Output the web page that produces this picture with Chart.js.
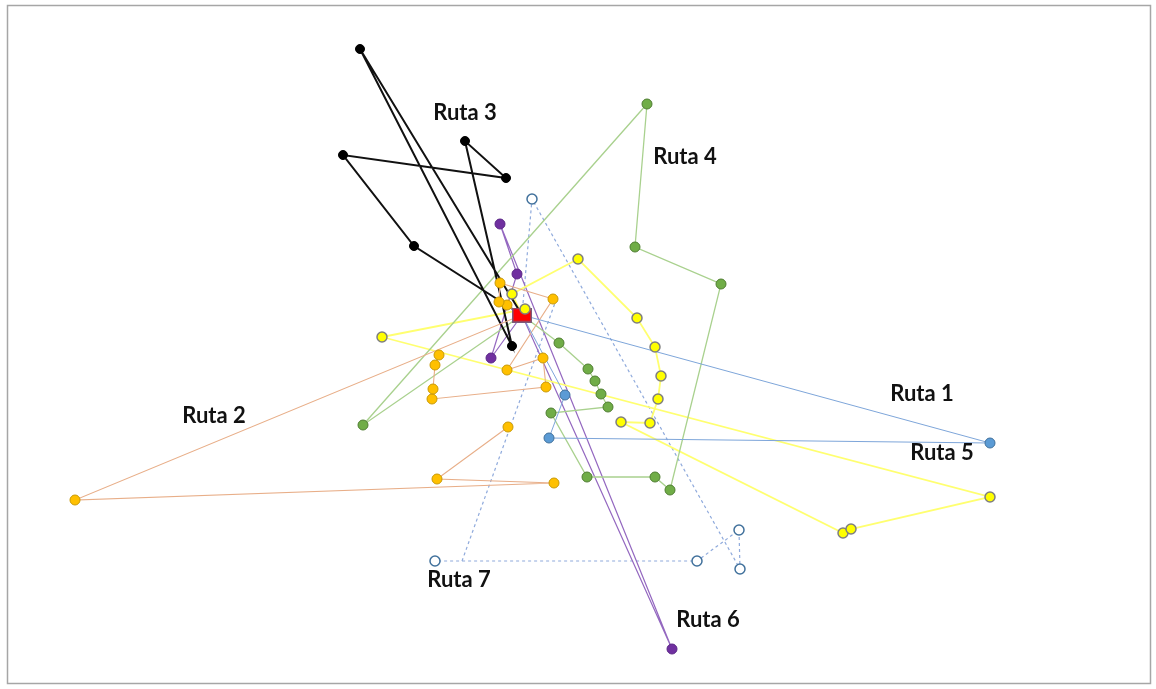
<!DOCTYPE html>
<html lang="es">
<head>
<meta charset="utf-8">
<title>Rutas</title>
<script src="https://cdn.jsdelivr.net/npm/chart.js@4.4.1/dist/chart.umd.min.js"></script>
<style>
  html, body { margin: 0; padding: 0; background: #fff; }
  #wrap { width: 1156px; height: 689px; position: relative; }
</style>
</head>
<body>
<div id="wrap"><canvas id="rutas"></canvas></div>
<script>
// coordenadas (x a la derecha, y hacia abajo)
const D = [522, 315]; // depósito
const ruta1 = [D, [990, 443], [549, 438], [565, 395], D];
const ruta2 = [[508, 427], [437, 479], [554, 483], [75, 500], D, [507, 305], [499, 302], [500, 283], [553, 299],
  [507, 370], [543, 358], [546, 387], [432, 399], [433, 389], [435, 365], [439, 355]];
const ruta3 = [D, [360, 49], [512, 346], [465, 141], [506, 178], [343, 155], [414, 246], D];
const ruta4 = [D, [363, 425], [647, 104], [635, 247], [721, 284], [670, 490], [655, 477], [587, 477], [551, 413],
  [608, 407], [601, 394], [595, 381], [588, 369], [559, 343], D];
const ruta5 = [D, [512, 294], [578, 259], [637, 318], [655, 347], [661, 376], [658, 399], [650, 423], [621, 422],
  [843, 533], [851, 529], [990, 497], [382, 337], [525, 309], D];
const ruta6 = [D, [672, 649], [500, 224], [517, 274], [491, 358], D];
const ruta7 = [D, [532, 199], [740, 569], [739, 530], [697, 561], [435, 561]];
const ruta7tramo = [[462, 561], [555, 303]];

const etiquetas = ['Ruta 1', 'Ruta 2', 'Ruta 3', 'Ruta 4', 'Ruta 5', 'Ruta 6', 'Ruta 7'];
const etiquetaX = [922, 214, 465, 685, 942, 708, 459];
const etiquetaY = [394, 416, 113, 157, 453, 620, 580];

const aXY = pts => pts.map(p => ({ x: p[0], y: p[1] }));
const sinDeposito = pts => pts.filter(p => p !== D);

// estilo de cada ruta: línea y marcador
const estilos = [
  { pts: ruta1, linea: '#7EA6DA', ancho: 1, fondo: '#5B9BD5', borde: '#41719C', bw: 1, r: 5 },
  { pts: ruta2, linea: '#E8AE88', ancho: 1.1, fondo: '#FFC000', borde: '#C99A06', bw: 1, r: 5 },
  { pts: ruta3, linea: '#111111', ancho: 2, fondo: '#000000', borde: '#000000', bw: 1, r: 4.5 },
  { pts: ruta4, linea: '#A9D18E', ancho: 1.3, fondo: '#70AD47', borde: '#507E32', bw: 1, r: 5 },
  { pts: ruta5, linea: '#FFFF70', ancho: 1.8, fondo: '#FFFF00', borde: '#7F7F7F', bw: 1.5, r: 5 },
  { pts: ruta6, linea: '#9468C0', ancho: 1.2, fondo: '#7030A0', borde: '#5B2787', bw: 1, r: 5 },
  { pts: ruta7, linea: '#8FAADC', ancho: 1.2, fondo: '#FFFFFF', borde: '#41719C', bw: 1.5, r: 5, guion: [3, 3] }
];

// marcador del depósito (cuadro rojo)
const imgDeposito = document.createElement('canvas');
imgDeposito.width = 20;
imgDeposito.height = 15;
const cd = imgDeposito.getContext('2d');
cd.fillStyle = '#FF0000';
cd.fillRect(0, 0, 20, 15);
cd.strokeStyle = '#7B5A78';
cd.lineWidth = 1.5;
cd.strokeRect(0.75, 0.75, 18.5, 13.5);

const datasets = [];
// líneas (debajo)
estilos.forEach((e, i) => {
  datasets.push({
    label: etiquetas[i] + ' línea',
    data: aXY(e.pts),
    showLine: true,
    borderColor: e.linea,
    borderWidth: e.ancho,
    borderDash: e.guion || [],
    pointRadius: 0,
    order: 20
  });
});
datasets.push({
  label: 'Ruta 7 tramo',
  data: aXY(ruta7tramo),
  showLine: true,
  borderColor: '#8FAADC',
  borderWidth: 1.2,
  borderDash: [3, 3],
  pointRadius: 0,
  order: 20
});
// marcadores
estilos.forEach((e, i) => {
  datasets.push({
    label: etiquetas[i],
    data: aXY(sinDeposito(e.pts)),
    showLine: false,
    pointRadius: e.r,
    pointBackgroundColor: e.fondo,
    pointBorderColor: e.borde,
    pointBorderWidth: e.bw,
    order: i === 4 ? 0 : 5
  });
});
datasets.push({
  label: 'Depósito',
  data: aXY([D]),
  showLine: false,
  pointStyle: imgDeposito,
  order: 1
});

const marcoYTextos = {
  id: 'marcoYTextos',
  beforeDraw(chart) {
    const ctx = chart.ctx;
    ctx.save();
    ctx.fillStyle = '#FFFFFF';
    ctx.fillRect(0, 0, chart.width, chart.height);
    ctx.strokeStyle = '#A6A6A6';
    ctx.lineWidth = 1.5;
    ctx.strokeRect(7.5, 5.5, 1143, 678);
    ctx.restore();
  },
  afterDatasetsDraw(chart) {
    const ctx = chart.ctx;
    const sx = chart.scales.x, sy = chart.scales.y;
    ctx.save();
    ctx.font = 'bold 22px Lato';
    ctx.fillStyle = '#111111';
    ctx.textAlign = 'center';
    ctx.textBaseline = 'middle';
    etiquetas.forEach((t, i) => {
      ctx.fillText(t, sx.getPixelForValue(etiquetaX[i]), sy.getPixelForValue(etiquetaY[i]));
    });
    ctx.restore();
  }
};

new Chart(document.getElementById('rutas'), {
  type: 'scatter',
  data: { datasets },
  options: {
    responsive: true,
    maintainAspectRatio: false,
    animation: false,
    layout: { padding: 0, autoPadding: false },
    plugins: { legend: { display: false }, tooltip: { enabled: false } },
    scales: {
      x: { type: 'linear', min: 0, max: 1156, display: false },
      y: { type: 'linear', min: 0, max: 689, reverse: true, display: false }
    }
  },
  plugins: [marcoYTextos]
});
</script>
</body>
</html>
